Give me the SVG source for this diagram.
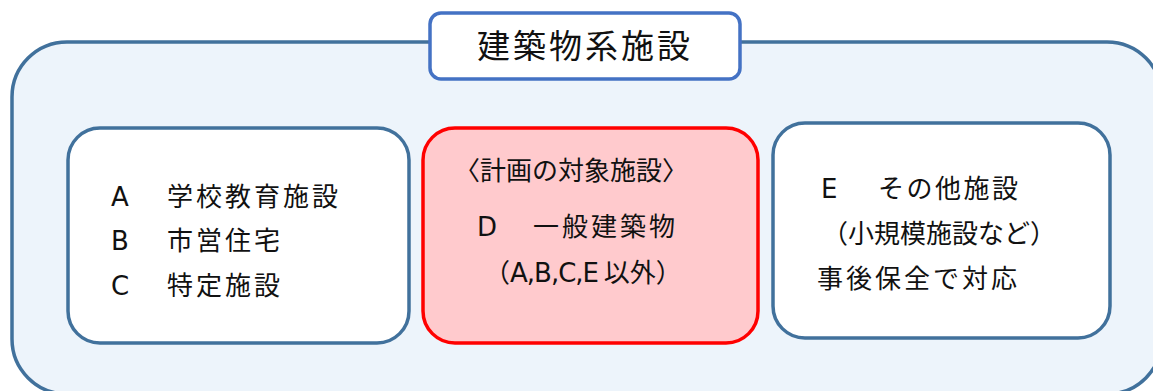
<svg xmlns="http://www.w3.org/2000/svg" width="1153" height="391" viewBox="0 0 1153 391">
<style>
.t{font-family:"Noto Sans CJK JP","Noto Sans",sans-serif;font-size:26px;fill:#111;}
.l{font-family:"DejaVu Sans","Noto Sans CJK JP",sans-serif;font-size:26px;}
.box{fill:#fff;stroke:#41719C;stroke-width:3.5;}
</style>
<rect width="1153" height="391" fill="#fff"/>
<g id="outer">
<rect x="12" y="42" width="1150" height="352" rx="55" ry="55" fill="#EDF4FB" stroke="#41719C" stroke-width="3.5"/>
</g>
<g id="title">
<rect x="430" y="13" width="310" height="66" rx="11" ry="11" fill="#fff" stroke="#4472C4" stroke-width="3.5"/>
<text class="t" x="585" y="58" text-anchor="middle" style="font-size:33px;letter-spacing:3px">建築物系施設</text>
</g>
<g id="nodeA">
<rect class="box" x="68" y="128" width="341" height="215" rx="32" ry="32"/>
<text class="t" y="206"><tspan class="l" x="111">A</tspan><tspan x="167" style="letter-spacing:3px">学校教育施設</tspan></text>
<text class="t" y="250"><tspan class="l" x="111">B</tspan><tspan x="167" style="letter-spacing:3px">市営住宅</tspan></text>
<text class="t" y="295"><tspan class="l" x="111">C</tspan><tspan x="167" style="letter-spacing:3px">特定施設</tspan></text>
</g>
<g id="nodeD">
<rect x="423" y="128" width="335" height="215" rx="32" ry="32" fill="#FFCACD" stroke="#FF0000" stroke-width="3.5"/>
<text class="t" x="454" y="180">〈計画の対象施設〉</text>
<text class="t" y="236"><tspan class="l" x="477">D</tspan><tspan x="533" style="letter-spacing:3px">一般建築物</tspan></text>
<text class="t" y="282"><tspan x="484">（</tspan><tspan class="l" style="letter-spacing:-1px">A,B,C,E</tspan><tspan> 以外）</tspan></text>
</g>
<g id="nodeE">
<rect class="box" x="773" y="123" width="337" height="215" rx="32" ry="32"/>
<text class="t" y="198"><tspan class="l" x="821">E</tspan><tspan x="878" style="letter-spacing:2.5px">その他施設</tspan></text>
<text class="t" x="822" y="243">（小規模施設など）</text>
<text class="t" x="817" y="288" style="letter-spacing:3px">事後保全で対応</text>
</g>
<g id="connectors"></g>
</svg>
